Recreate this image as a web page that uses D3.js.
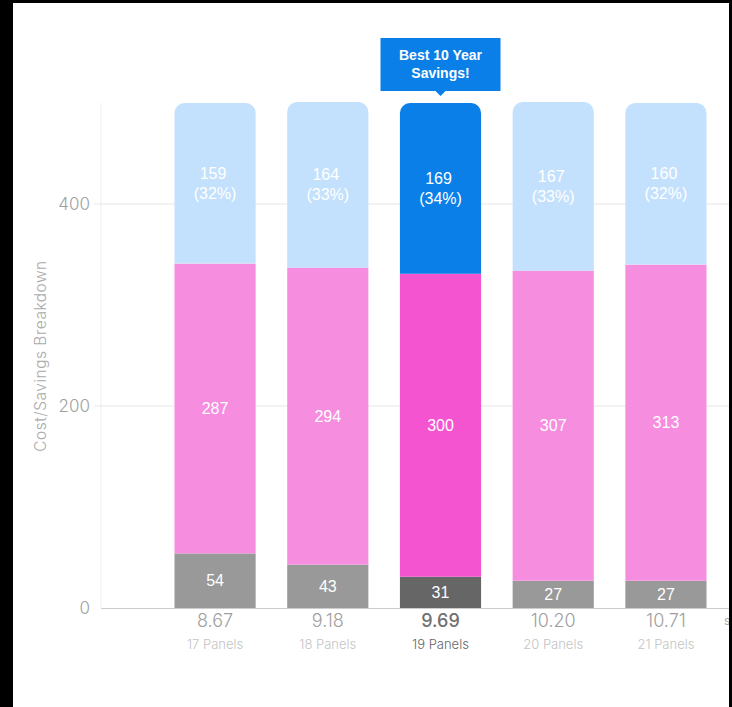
<!DOCTYPE html>
<html>
<head>
<meta charset="utf-8">
<script src="https://cdn.jsdelivr.net/npm/d3@7"></script>
<style>
  body { margin: 0; background: #000; }
  svg { display: block; font-family: "Liberation Sans", Arial, sans-serif; }
  .axis-text { font-family: "Inter", "Noto Sans", sans-serif; }
</style>
</head>
<body>
<div id="chart"></div>
<script>
const prices = ["8.67", "9.18", "9.69", "10.20", "10.71"];
const panels = ["17 Panels", "18 Panels", "19 Panels", "20 Panels", "21 Panels"];
const grayValues = [54, 43, 31, 27, 27];
const pinkValues = [287, 294, 300, 307, 313];
const blueValues = [159, 164, 169, 167, 160];
const bluePercents = ["32%", "33%", "34%", "33%", "32%"];
const yTicks = [0, 200, 400];
const bestIndex = 2;

const width = 732;
const height = 707;

const x = d3
  .scaleBand()
  .domain(d3.range(prices.length))
  .range([101, 780])
  .paddingInner(0.28)
  .paddingOuter(0.652);

const y = d3.scaleLinear().domain([0, 500]).range([608, 103]);

const colors = {
  gray: ["#999999", "#666666"],
  pink: ["#f78ddf", "#f454cf"],
  blue: ["#c3e1fd", "#0a7fe8"],
};

const svg = d3
  .select("#chart")
  .append("svg")
  .attr("width", width)
  .attr("height", height);

svg.append("rect").attr("width", width).attr("height", height).attr("fill", "#fff");

// gridlines
svg
  .append("g")
  .selectAll("line")
  .data(yTicks.filter((d) => d > 0))
  .join("line")
  .attr("x1", 94)
  .attr("x2", width)
  .attr("y1", (d) => y(d))
  .attr("y2", (d) => y(d))
  .attr("stroke", "#e6e6e6");

// y axis line
svg
  .append("line")
  .attr("x1", 101)
  .attr("x2", 101)
  .attr("y1", y(500))
  .attr("y2", y(0))
  .attr("stroke", "#eeeeee");

svg
  .append("g")
  .selectAll("text")
  .data(yTicks)
  .join("text")
  .attr("class", "axis-text")
  .attr("x", 90)
  .attr("y", (d) => y(d))
  .attr("dy", "0.35em")
  .attr("text-anchor", "end")
  .attr("fill", "#a0a0a0")
  .attr("font-size", 17)
  .attr("font-weight", 300)
  .text((d) => d);

svg
  .append("text")
  .attr("class", "axis-text")
  .attr("transform", `translate(46,356) rotate(-90)`)
  .attr("text-anchor", "middle")
  .attr("fill", "#aaaaaa")
  .attr("font-size", 15.5)
  .attr("font-weight", 300)
  .attr("letter-spacing", "0.5px")
  .text("Cost/Savings Breakdown");

const rows = prices.map((p, i) => ({
  i,
  gray: grayValues[i],
  pink: pinkValues[i],
  blue: blueValues[i],
}));

const barsG = svg.append("g");
const r = 10;

rows.forEach((d) => {
  const best = d.i === bestIndex ? 1 : 0;
  const x0 = x(d.i);
  const w = x.bandwidth();
  const yGray = y(d.gray);
  const yPink = y(d.gray + d.pink);
  const yTop = y(d.gray + d.pink + d.blue);

  barsG
    .append("rect")
    .attr("x", x0)
    .attr("y", yGray)
    .attr("width", w)
    .attr("height", y(0) - yGray)
    .attr("fill", colors.gray[best]);

  barsG
    .append("rect")
    .attr("x", x0)
    .attr("y", yPink)
    .attr("width", w)
    .attr("height", yGray - yPink)
    .attr("fill", colors.pink[best]);

  // top segment with rounded top corners
  barsG
    .append("path")
    .attr(
      "d",
      `M${x0},${yPink}V${yTop + r}A${r},${r} 0 0 1 ${x0 + r},${yTop}` +
        `H${x0 + w - r}A${r},${r} 0 0 1 ${x0 + w},${yTop + r}V${yPink}Z`
    )
    .attr("fill", colors.blue[best]);

  const cx = x0 + w / 2;
  const labels = barsG
    .append("g")
    .attr("fill", "#fff")
    .attr("font-size", 16)
    .attr("text-anchor", "middle");

  labels
    .append("text")
    .attr("x", cx)
    .attr("y", (yGray + y(0)) / 2)
    .attr("dy", "0.35em")
    .text(d.gray);

  labels
    .append("text")
    .attr("x", cx)
    .attr("y", (yPink + yGray) / 2)
    .attr("dy", "0.35em")
    .text(d.pink);

  const blueMid = (yTop + yPink) / 2;
  labels
    .append("text")
    .attr("x", cx - 2)
    .attr("y", blueMid - 10)
    .attr("dy", "0.35em")
    .text(d.blue);
  labels
    .append("text")
    .attr("x", cx)
    .attr("y", blueMid + 10)
    .attr("dy", "0.35em")
    .text(`(${bluePercents[d.i]})`);
});

// x axis baseline
svg
  .append("line")
  .attr("x1", 101)
  .attr("x2", width)
  .attr("y1", y(0) + 0.5)
  .attr("y2", y(0) + 0.5)
  .attr("stroke", "#cccccc");

const xLabels = svg.append("g").attr("class", "axis-text").attr("text-anchor", "middle");

xLabels
  .selectAll(".price")
  .data(rows)
  .join("text")
  .attr("class", "price")
  .attr("x", (d) => x(d.i) + x.bandwidth() / 2)
  .attr("y", 621)
  .attr("dy", "0.35em")
  .attr("font-size", 18)
  .attr("font-weight", (d) => (d.i === bestIndex ? 500 : 300))
  .attr("fill", (d) => (d.i === bestIndex ? "#707070" : "#a0a0a0"))
  .text((d) => prices[d.i]);

xLabels
  .selectAll(".panels")
  .data(rows)
  .join("text")
  .attr("class", "panels")
  .attr("x", (d) => x(d.i) + x.bandwidth() / 2)
  .attr("y", 644)
  .attr("dy", "0.35em")
  .attr("font-size", 13)
  .attr("font-weight", 300)
  .attr("fill", (d) => (d.i === bestIndex ? "#666666" : "#c4c4c4"))
  .text((d) => panels[d.i]);

svg
  .append("text")
  .attr("class", "axis-text")
  .attr("x", 724)
  .attr("y", 621)
  .attr("dy", "0.35em")
  .attr("font-size", 12)
  .attr("fill", "#aaaaaa")
  .text("system size");

// callout
const bx = x(bestIndex) + x.bandwidth() / 2;
const callout = svg.append("g");
callout
  .append("path")
  .attr(
    "d",
    `M${bx - 60},38H${bx + 60}V91H${bx + 5}L${bx},96L${bx - 5},91H${bx - 60}Z`
  )
  .attr("fill", "#0a7fe8");
callout
  .append("text")
  .attr("text-anchor", "middle")
  .attr("fill", "#fff")
  .attr("font-size", 14)
  .attr("font-weight", "bold")
  .selectAll("tspan")
  .data(["Best 10 Year", "Savings!"])
  .join("tspan")
  .attr("x", bx)
  .attr("y", (d, i) => 55 + i * 18)
  .attr("dy", "0.35em")
  .text((d) => d);

// frame edges
svg.append("rect").attr("x", 0).attr("y", 0).attr("width", 13).attr("height", height).attr("fill", "#000");
svg.append("rect").attr("x", 0).attr("y", 0).attr("width", width).attr("height", 3).attr("fill", "#000");
svg.append("rect").attr("x", 729).attr("y", 0).attr("width", 3).attr("height", height).attr("fill", "#000");
</script>
</body>
</html>
